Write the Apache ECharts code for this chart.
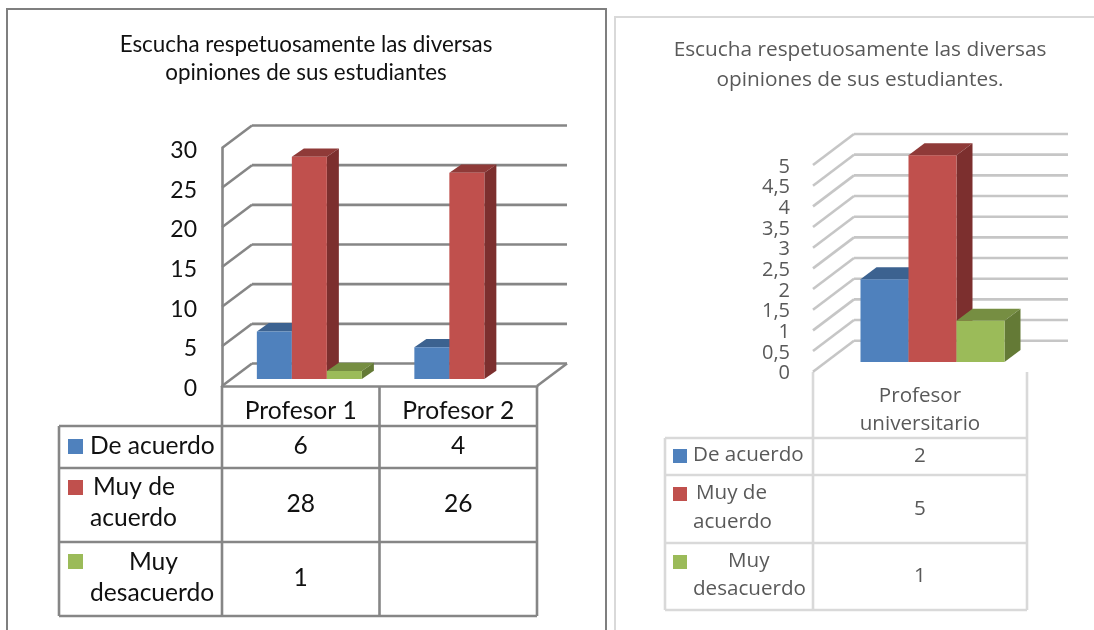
<!DOCTYPE html>
<html lang="es">
<head>
<meta charset="utf-8">
<title>Escucha respetuosamente</title>
<style>html,body{margin:0;padding:0;background:#fff}#chart{width:1094px;height:630px}</style>
<script src="https://cdn.jsdelivr.net/npm/echarts@6/dist/echarts.min.js"></script>
</head>
<body>
<div id="chart"></div>
<script>
// Values for the left chart
const categoriesA = ['Profesor 1', 'Profesor 2'];
const deAcuerdoA = [6, 4];
const muyDeAcuerdoA = [28, 26];
const muyDesacuerdoA = [1, null];
const ticksA = [0, 5, 10, 15, 20, 25, 30];

// Values for the right chart
const categoriesB = ['Profesor\nuniversitario'];
const deAcuerdoB = [2];
const muyDeAcuerdoB = [5];
const muyDesacuerdoB = [1];
const ticksB = [0, 0.5, 1, 1.5, 2, 2.5, 3, 3.5, 4, 4.5, 5];

const seriesColors = [
  { front: '#4f81bd', top: '#3c6290', side: '#335479' },
  { front: '#c0504d', top: '#8f3a38', side: '#7c2f2e' },
  { front: '#9bbb59', top: '#768e42', side: '#647a36' }
];

const panelA = {
  grid: { left: 222, top: 148, width: 315, height: 238 },
  font: 'Lato', size: 24.6, titleSize: 22.4, labelSize: 23, lineWidth: 2.6, textLh: 30, color: '#111111', line: '#868686', tableLine: '#868686',
  wall: [30, -22.5], bar: { dx: 8.6, dy: -7, depth: [12, -8.3], ratio: 0.2222 },
  title: { x: 301, y: 26, text: 'Escucha respetuosamente las diversas\nopiniones de sus estudiantes', lh: 28 },
  floorEdge: true, axisEdges: true,
  tickGap: 25, tickShift: 2.5,
  tableX: [59, 222, 379.5, 537], tableY: [386, 426, 468, 542, 616],
  headY: 411,
  keyX: 68, keySize: 15, keyY: [439, 480, 554],
  rowText: [
    [['De acuerdo', 90, 446]],
    [['Muy de', 93, 487], ['acuerdo', 90, 518]],
    [['Muy', 129, 562], ['desacuerdo', 90, 593]]
  ],
  valueY: [446, 504, 578]
};
const panelB = {
  grid: { left: 813, top: 165, width: 214, height: 206.7 },
  font: 'Open Sans', size: 20.6, titleSize: 20.8, labelSize: 20, lineWidth: 2.6, textLh: 28, color: '#595959', line: '#c6c6c6', tableLine: '#d9d9d9',
  wall: [41, -31], bar: { dx: 12.5, dy: -9.7, depth: [16, -12], ratio: 0.2243 },
  title: { x: 855, y: 30, text: 'Escucha respetuosamente las diversas\nopiniones de sus estudiantes.', lh: 30 },
  floorEdge: false, axisEdges: false,
  tickGap: 23, tickShift: 2,
  tableX: [665, 813, 1027], tableY: [372, 438, 475, 543, 610],
  headY: 410,
  keyX: 673, keySize: 14, keyY: [449, 487, 555],
  rowText: [
    [['De acuerdo', 693, 455]],
    [['Muy de', 696, 493], ['acuerdo', 693, 522]],
    [['Muy', 728, 561], ['desacuerdo', 693, 589]]
  ],
  valueY: [456, 509, 576]
};

// Receding grid lines and the tick label for each tick value
function wallItem(panel) {
  return function (params, api) {
    const g = params.coordSys;
    const tick = api.value(1);
    const y = api.coord([0, tick])[1];
    const [dx, dy] = panel.wall;
    const lineStyle = { stroke: panel.line, lineWidth: panel.lineWidth, fill: null };
    const children = [
      { type: 'line', shape: { x1: g.x, y1: y, x2: g.x + dx, y2: y + dy }, style: lineStyle },
      { type: 'line', shape: { x1: g.x + dx, y1: y + dy, x2: g.x + g.width + dx, y2: y + dy }, style: lineStyle },
      { type: 'text', x: g.x - panel.tickGap, y: y + panel.tickShift,
        style: { text: String(tick).replace('.', ','), fill: panel.color, fontFamily: panel.font, fontSize: panel.labelSize, align: 'right', verticalAlign: 'middle' } }
    ];
    if (panel.floorEdge && tick === 0) {
      children.push({ type: 'line', shape: { x1: g.x + g.width, y1: y, x2: g.x + g.width + dx, y2: y + dy }, style: lineStyle });
    }
    return { type: 'group', children };
  };
}

// A bar with visible front, top and right faces
function barItem(panel, slot, colors) {
  return function (params, api) {
    const v = api.value(1);
    if (v == null || isNaN(v)) return null;
    const top = api.coord([api.value(0), v]);
    const base = api.coord([api.value(0), 0]);
    const w = api.size([1, 0])[0] * panel.bar.ratio;
    const x0 = top[0] + panel.bar.dx + (slot - 1.5) * w;
    const x1 = x0 + w;
    const yT = top[1] + panel.bar.dy;
    const yB = base[1] + panel.bar.dy;
    const [ox, oy] = panel.bar.depth;
    return {
      type: 'group',
      children: [
        { type: 'polygon', shape: { points: [[x0, yT], [x1, yT], [x1 + ox, yT + oy], [x0 + ox, yT + oy]] }, style: { fill: colors.top } },
        { type: 'polygon', shape: { points: [[x1, yT], [x1 + ox, yT + oy], [x1 + ox, yB + oy], [x1, yB]] }, style: { fill: colors.side } },
        { type: 'rect', shape: { x: x0, y: yT, width: w, height: yB - yT }, style: { fill: colors.front } }
      ]
    };
  };
}

function panelSeries(panel, index, ticks, columns) {
  const list = [{
    type: 'custom', xAxisIndex: index, yAxisIndex: index, z: 1, silent: true,
    renderItem: wallItem(panel), encode: { x: 0, y: 1 },
    data: ticks.map(t => [0, t])
  }];
  columns.forEach((values, slot) => {
    list.push({
      type: 'custom', xAxisIndex: index, yAxisIndex: index, z: 3 + slot, silent: true,
      renderItem: barItem(panel, slot, seriesColors[slot]), encode: { x: 0, y: 1 },
      data: values.map((v, i) => [i, v])
    });
  });
  return list;
}

// Data table under each chart, with the colour keys in its first column
function tableGraphics(panel, categories, columns) {
  const out = [];
  const seg = (x1, y1, x2, y2) => out.push({
    type: 'line', silent: true,
    shape: { x1, y1, x2, y2 }, style: { stroke: panel.tableLine, lineWidth: panel.lineWidth }
  });
  const label = (text, x, y, align) => out.push({
    type: 'text', silent: true, x, y,
    style: { text, x: 0, y: 0, fill: panel.color, fontFamily: panel.font, fontSize: panel.size, align, verticalAlign: 'middle', lineHeight: panel.textLh }
  });
  const X = panel.tableX, Y = panel.tableY;
  const right = X[X.length - 1];
  // horizontal rules
  for (let r = 1; r < Y.length; r++) seg(X[0], Y[r], right, Y[r]);
  // vertical rules, the value columns reach up to the axis
  seg(X[0], Y[1], X[0], Y[Y.length - 1]);
  for (let c = 1; c < X.length; c++) seg(X[c], Y[0], X[c], Y[Y.length - 1]);
  categories.forEach((name, c) => label(name, (X[c + 1] + X[c + 2]) / 2, panel.headY, 'center'));
  columns.forEach((values, r) => {
    out.push({ type: 'rect', silent: true, shape: { x: panel.keyX, y: panel.keyY[r], width: panel.keySize, height: panel.keySize }, style: { fill: seriesColors[r].front } });
    panel.rowText[r].forEach(([t, x, y]) => label(t, x, y, 'left'));
    values.forEach((v, c) => {
      if (v != null) label(String(v), (X[c + 1] + X[c + 2]) / 2, panel.valueY[r], 'center');
    });
  });
  return out;
}

const columnsA = [deAcuerdoA, muyDeAcuerdoA, muyDesacuerdoA];
const columnsB = [deAcuerdoB, muyDeAcuerdoB, muyDesacuerdoB];

const frames = [
  { type: 'polyline', silent: true, shape: { points: [[7, 630], [7, 9], [606, 9], [606, 630]] }, style: { stroke: '#7f7f7f', lineWidth: 2, fill: null } },
  { type: 'polyline', silent: true, shape: { points: [[615, 630], [615, 17], [1094, 17]] }, style: { stroke: '#d9d9d9', lineWidth: 2, fill: null } }
];

const titleOf = panel => ({
  text: panel.title.text, left: panel.title.x, top: panel.title.y, textAlign: 'center',
  textStyle: { fontFamily: panel.font, fontSize: panel.titleSize, fontWeight: 'normal', color: panel.color, lineHeight: panel.title.lh }
});

const yAxisOf = (panel, gridIndex, max, interval) => ({
  type: 'value', gridIndex, min: 0, max, interval,
  axisLine: { show: panel.axisEdges, lineStyle: { color: panel.line, width: panel.lineWidth } },
  axisTick: { show: false }, splitLine: { show: false }, axisLabel: { show: false }
});

const xAxisOf = (panel, gridIndex, categories) => ({
  type: 'category', gridIndex, data: categories,
  axisLine: { show: panel.axisEdges, onZero: false, lineStyle: { color: panel.line, width: panel.lineWidth } },
  axisTick: { show: false }, axisLabel: { show: false }, splitLine: { show: false }
});

const chart = echarts.init(document.getElementById('chart'), null, { renderer: 'canvas' });
chart.setOption({
  animation: false,
  backgroundColor: '#ffffff',
  title: [titleOf(panelA), titleOf(panelB)],
  grid: [panelA.grid, panelB.grid],
  xAxis: [xAxisOf(panelA, 0, categoriesA), xAxisOf(panelB, 1, categoriesB)],
  yAxis: [yAxisOf(panelA, 0, 30, 5), yAxisOf(panelB, 1, 5, 0.5)],
  series: [
    ...panelSeries(panelA, 0, ticksA, columnsA),
    ...panelSeries(panelB, 1, ticksB, columnsB)
  ],
  graphic: { elements: [
    ...frames,
    ...tableGraphics(panelA, categoriesA, columnsA),
    ...tableGraphics(panelB, categoriesB, columnsB)
  ] }
});
</script>
</body>
</html>
